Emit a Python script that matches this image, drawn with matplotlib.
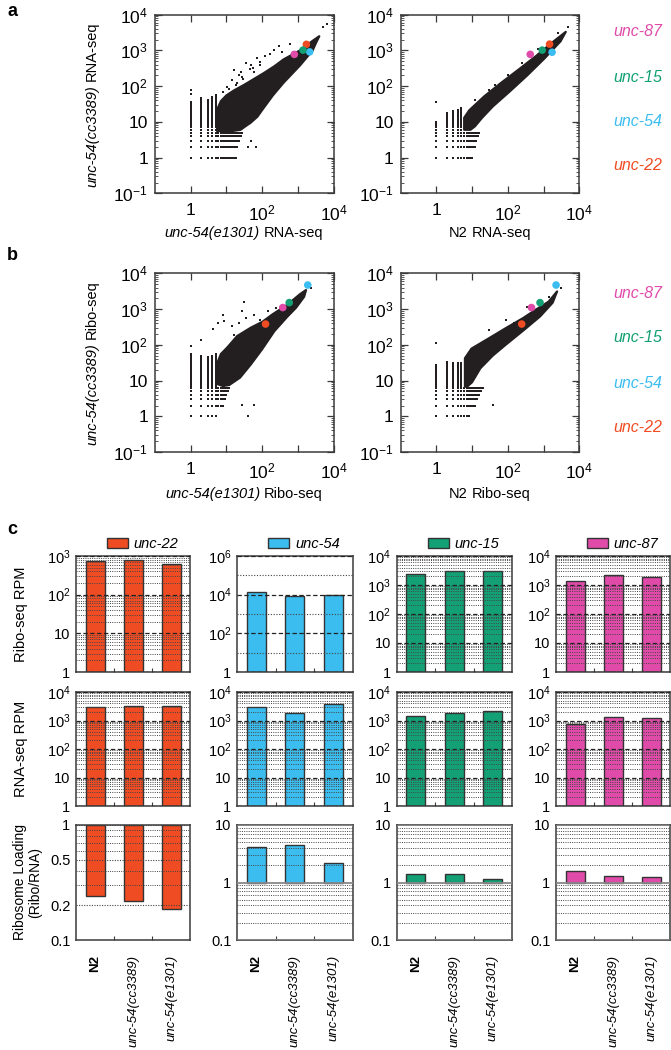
import numpy as np
import matplotlib
matplotlib.use("Agg")
import matplotlib.pyplot as plt
from matplotlib import font_manager
from matplotlib.patches import Patch
from matplotlib.transforms import IdentityTransform
from matplotlib.ticker import FixedLocator, FixedFormatter, NullFormatter, NullLocator

_names = {f.name for f in font_manager.fontManager.ttflist}
SANS = "Liberation Sans" if "Liberation Sans" in _names else "DejaVu Sans"
NARROW = "Liberation Sans Narrow" if "Liberation Sans Narrow" in _names else SANS

plt.rcParams["font.family"] = [SANS, "DejaVu Sans"]
plt.rcParams["mathtext.fontset"] = "custom"
plt.rcParams["mathtext.rm"] = NARROW
plt.rcParams["mathtext.it"] = NARROW + ":italic"
plt.rcParams["mathtext.default"] = "rm"

# ============================ DATA ============================
genes = ["unc-22", "unc-54", "unc-15", "unc-87"]
gene_colors = ["#F04C23", "#3BBDEF", "#13A074", "#E04BAA"]
side_labels = ["unc-87", "unc-15", "unc-54", "unc-22"]
side_colors = ["#E04BAA", "#13A074", "#3BBDEF", "#F04C23"]

# integer read-count levels (low-count lattice of the scatter plots)
count_levels = np.arange(1, 101)

# ---- panel a, left: unc-54(e1301) RNA-seq (x) vs unc-54(cc3389) RNA-seq (y)
a1_gene_x = [1740, 2150, 1400, 800]
a1_gene_y = [1480, 910, 1020, 775]
a1_cloud_x = [5.5, 5.5, 7, 10, 16, 32, 60, 110, 220, 400, 1150, 2500, 4000,
              3300, 2600, 1150, 400, 200, 102, 74, 48, 32, 25, 14, 8]
a1_cloud_y = [5.5, 22, 38, 55, 75, 110, 160, 230, 360, 560, 1000, 1800, 2500,
              1700, 1000, 380, 125, 55, 22, 14, 9.5, 7.2, 6, 5.5, 5.5]
a1_col_x = [1, 2, 3, 4, 5]
a1_col_top = [35, 47, 42, 50, 55]
a1_row_y = [1, 2, 3, 4, 5]
a1_row_right = [18, 20, 22, 25, 28]
a1_out_x = [10.5, 14, 16, 22, 25, 36, 45, 50, 72, 90, 120, 220, 300, 60, 30, 18,
            8, 1, 1, 69, 48, 150, 5200, 6500, 80, 110, 40, 20, 28, 55, 85, 170,
            350, 600, 12]
a1_out_y = [96, 150, 280, 200, 250, 435, 300, 400, 600, 480, 700, 1020, 1300, 250,
            160, 110, 70, 80, 60, 2, 3, 60, 4600, 5500, 35, 40, 2, 120, 180, 330,
            380, 800, 900, 1500, 85]

# ---- panel a, right: N2 RNA-seq (x) vs unc-54(cc3389) RNA-seq (y)
a2_gene_x = [1480, 1740, 920, 425]
a2_gene_y = [1500, 890, 1020, 775]
a2_cloud_x = [6, 6, 8.3, 22, 66, 200, 600, 1800, 4200,
              3000, 1070, 350, 115, 38, 19, 12, 9]
a2_cloud_y = [6, 13, 21, 52, 125, 290, 680, 1700, 3300,
              1800, 600, 200, 72, 27, 13, 7.5, 6]
a2_col_x = [1, 2, 3, 4, 5]
a2_col_top = [10, 18, 20, 22, 25]
a2_row_y = [1, 2, 3, 4, 5]
a2_row_right = [10, 12, 13.5, 15, 16]
a2_out_x = [1, 4800, 2600, 12, 30, 100, 250, 180, 400, 45, 700]
a2_out_y = [35, 4600, 3000, 40, 80, 200, 450, 120, 250, 110, 1100]

# ---- panel b, left: unc-54(e1301) Ribo-seq (x) vs unc-54(cc3389) Ribo-seq (y)
b1_gene_x = [125, 1900, 575, 380]
b1_gene_y = [380, 4700, 1510, 1100]
b1_cloud_x = [5.5, 5.5, 7, 10.7, 20, 48, 102, 200, 500, 1150, 1700,
              1500, 900, 500, 220, 100, 48, 24, 12, 8]
b1_cloud_y = [8, 30, 55, 85, 175, 300, 440, 720, 1300, 2600, 3400,
              2200, 1100, 600, 240, 75, 28, 12, 7.5, 7]
b1_col_x = [1, 2, 3, 4, 5]
b1_col_top = [54, 50, 45, 50, 55]
b1_row_y = [1, 2, 3, 4, 5, 6]
b1_row_right = [5.6, 8.7, 9, 10, 11, 12]
b1_out_x = [1, 1.9, 4.1, 8.7, 14.8, 28, 32, 60, 16.6, 6, 8, 28, 60, 40, 2300, 150, 90,
            22, 35, 250]
b1_out_y = [91, 140, 270, 460, 330, 870, 1620, 690, 190, 400, 690, 2.1, 2.1, 1, 3800, 900,
            500, 400, 560, 1100]

# ---- panel b, right: N2 Ribo-seq (x) vs unc-54(cc3389) Ribo-seq (y)
b2_gene_x = [245, 2250, 800, 460]
b2_gene_y = [380, 4700, 1510, 1100]
b2_cloud_x = [6.3, 6.3, 9.6, 29, 87, 270, 600, 1380, 2400,
              1800, 800, 270, 87, 38, 17, 10, 7]
b2_cloud_y = [7, 42, 78, 150, 290, 560, 950, 1600, 3100,
              1500, 620, 250, 100, 50, 22, 9, 6.5]
b2_col_x = [1, 2, 3, 4, 5]
b2_col_top = [28, 32, 30, 30, 30]
b2_row_y = [1, 2, 3, 4, 5, 6]
b2_row_right = [8, 12, 14, 16, 18, 20]
b2_out_x = [1, 29, 87, 350, 38, 1400, 3000, 20, 60, 150]
b2_out_y = [115, 260, 500, 1170, 2.1, 2200, 3800, 80, 180, 400]

# ---- panel c
conditions = ["N2", "unc-54(cc3389)", "unc-54(e1301)"]
ribo_unc22 = [730, 800, 620]
ribo_unc54 = [13000, 9000, 9800]
ribo_unc15 = [2400, 3000, 3000]
ribo_unc87 = [1350, 2200, 1900]
rna_unc22 = [2900, 3100, 3100]
rna_unc54 = [2900, 1830, 3730]
rna_unc15 = [1480, 1830, 2200]
rna_unc87 = [730, 1370, 1270]
load_unc22 = [0.243, 0.22, 0.185]
load_unc54 = [4.07, 4.47, 2.2]
load_unc15 = [1.4, 1.4, 1.15]
load_unc87 = [1.58, 1.32, 1.27]

# ============================ FIGURE ============================
W, H = 671, 1050
fig = plt.figure(figsize=(W / 100, H / 100), dpi=100)
DOT = "#231F20"
SPINE = "#3a3a3a"


def add_ax(x0, y0, x1, y1):
    return fig.add_axes([x0 / W, 1 - y1 / H, (x1 - x0) / W, (y1 - y0) / H])


def ftext(x, y, s, **kw):
    return fig.text(x, H - y, s, transform=IdentityTransform(), **kw)


def mixed_label(xc, yc, parts, rotation=0, size=10.5):
    r = fig.canvas.get_renderer()
    ts = []
    for s, st in parts:
        if rotation == 0:
            t = ftext(0, 0, s, fontsize=size, fontstyle=st, ha="left", va="center")
        else:
            t = ftext(0, 0, s, fontsize=size, fontstyle=st, rotation=90,
                      ha="center", va="bottom")
        ts.append(t)
    gap = size * 100 / 72 * 0.28
    lens = []
    for t in ts:
        bb = t.get_window_extent(r)
        lens.append(bb.width if rotation == 0 else bb.height)
    total = sum(lens) + gap * (len(ts) - 1)
    if rotation == 0:
        pos = xc - total / 2
        for t, L in zip(ts, lens):
            t.set_position((pos, H - yc))
            pos += L + gap
    else:
        pos = (H - yc) - total / 2
        for t, L in zip(ts, lens):
            t.set_position((xc, pos))
            pos += L + gap


def draw_scatter(ax, cx, cy, colx, coltop, rowy, rowright, ox, oy, gx, gy):
    ax.set_xscale("log")
    ax.set_yscale("log")
    ax.fill(cx, cy, color=DOT, lw=1.6, joinstyle="round", zorder=2)
    for x, top in zip(colx, coltop):
        ys = [v for v in count_levels if v <= top]
        ax.scatter([x] * len(ys), ys, s=1.8, marker="s", color=DOT, lw=0, zorder=2)
    for y, right in zip(rowy, rowright):
        xs = [v for v in count_levels if v <= right]
        ax.scatter(xs, [y] * len(xs), s=1.8, marker="s", color=DOT, lw=0, zorder=2)
    ax.scatter(ox, oy, s=1.6, marker="s", color=DOT, lw=0, zorder=2)
    ax.scatter(gx, gy, s=30, c=gene_colors, lw=0, zorder=4)
    ax.set_xlim(0.1, 1e4)
    ax.set_ylim(0.1, 1e4)
    ax.yaxis.set_major_locator(FixedLocator([0.1, 1, 10, 100, 1e3, 1e4]))
    ax.yaxis.set_major_formatter(FixedFormatter(
        [r"$10^{-1}$", "1", "10", r"$10^{2}$", r"$10^{3}$", r"$10^{4}$"]))
    ax.yaxis.set_minor_formatter(NullFormatter())
    ax.xaxis.set_major_locator(FixedLocator([1, 10, 100, 1e3, 1e4]))
    ax.xaxis.set_major_formatter(FixedFormatter(["1", "", r"$10^{2}$", "", r"$10^{4}$"]))
    ax.xaxis.set_minor_locator(NullLocator())
    ax.tick_params(which="both", direction="in", top=True, right=True,
                   labelsize=12.5, labelfontfamily=NARROW, color=SPINE)
    ax.tick_params(which="major", length=5, width=0.9)
    ax.tick_params(which="minor", length=2.5, width=0.6)
    ax.tick_params(axis="y", pad=5)
    ax.tick_params(axis="x", pad=7)
    for sp in ax.spines.values():
        sp.set_color(SPINE)
        sp.set_linewidth(1.1)


# ---------- panels a and b ----------
axA1 = add_ax(155, 14.7, 333.5, 193.3)
draw_scatter(axA1, a1_cloud_x, a1_cloud_y, a1_col_x, a1_col_top, a1_row_y, a1_row_right,
             a1_out_x, a1_out_y, a1_gene_x, a1_gene_y)
axA2 = add_ax(400.7, 14.7, 579.2, 193.3)
draw_scatter(axA2, a2_cloud_x, a2_cloud_y, a2_col_x, a2_col_top, a2_row_y, a2_row_right,
             a2_out_x, a2_out_y, a2_gene_x, a2_gene_y)
axB1 = add_ax(155, 273.3, 333.5, 452)
draw_scatter(axB1, b1_cloud_x, b1_cloud_y, b1_col_x, b1_col_top, b1_row_y, b1_row_right,
             b1_out_x, b1_out_y, b1_gene_x, b1_gene_y)
axB2 = add_ax(400.7, 273.3, 579.2, 452)
draw_scatter(axB2, b2_cloud_x, b2_cloud_y, b2_col_x, b2_col_top, b2_row_y, b2_row_right,
             b2_out_x, b2_out_y, b2_gene_x, b2_gene_y)

for lab, ys in (("a", 11), ("b", 256), ("c", 529)):
    ftext(7, ys, lab, fontsize=13, fontweight="bold", ha="left", va="center")

for ys in ([32, 78, 122, 166], [293, 338, 383, 427]):
    for name, col, y in zip(side_labels, side_colors, ys):
        ftext(638, y, name, fontsize=11.5, fontstyle="italic", color=col,
              ha="center", va="center")

fig.canvas.draw()
mixed_label(92, 104, [("unc-54(cc3389)", "italic"), ("RNA-seq", "normal")], rotation=90)
mixed_label(92, 362.7, [("unc-54(cc3389)", "italic"), ("Ribo-seq", "normal")], rotation=90)
mixed_label(244, 233, [("unc-54(e1301)", "italic"), ("RNA-seq", "normal")])
mixed_label(490, 233, [("N2", "normal"), ("RNA-seq", "normal")])
mixed_label(244, 494, [("unc-54(e1301)", "italic"), ("Ribo-seq", "normal")])
mixed_label(490, 494, [("N2", "normal"), ("Ribo-seq", "normal")])

# ---------- panel c ----------
col_x = [(76, 190), (237, 352.7), (396.5, 512), (556, 670)]
row_y = [(556, 672), (692, 806), (825, 940)]
ribo = [ribo_unc22, ribo_unc54, ribo_unc15, ribo_unc87]
rna = [rna_unc22, rna_unc54, rna_unc15, rna_unc87]
load = [load_unc22, load_unc54, load_unc15, load_unc87]
xpos = np.arange(len(conditions))

dec_labels = {0.1: "0.1", 0.2: "0.2", 0.5: "0.5", 1: "1", 10: "10", 100: r"$10^{2}$",
              1e3: r"$10^{3}$", 1e4: r"$10^{4}$", 1e6: r"$10^{6}$"}


def style_c(ax, ylim, major, minor, major_ls, show_x):
    ax.set_yscale("log")
    ax.set_ylim(*ylim)
    ax.set_xlim(-0.5, 2.5)
    ax.yaxis.set_major_locator(FixedLocator(major))
    ax.yaxis.set_major_formatter(FixedFormatter([dec_labels[m] for m in major]))
    ax.yaxis.set_minor_locator(FixedLocator(minor))
    ax.yaxis.set_minor_formatter(NullFormatter())
    ax.set_axisbelow(False)
    if major_ls == "solid":
        ax.yaxis.grid(True, which="major", color="#888888", lw=1.3, ls="-")
    elif major_ls == "dashed":
        ax.yaxis.grid(True, which="major", color="#222222", lw=0.9, ls=(0, (3.5, 2)))
    else:
        ax.yaxis.grid(True, which="major", color="#444444", lw=0.8, ls=(0, (1, 1.3)))
    ax.yaxis.grid(True, which="minor", color="#444444", lw=0.7, ls=(0, (1, 1.3)))
    ax.tick_params(axis="y", which="both", length=0, labelsize=10.5,
                   labelfontfamily=NARROW, pad=4)
    ax.xaxis.set_minor_locator(FixedLocator([0.5, 1.5]))
    ax.tick_params(axis="x", which="minor", direction="in", length=3, width=0.8,
                   color=SPINE)
    ax.set_xticks(xpos)
    ax.tick_params(axis="x", which="major", length=0)
    if show_x:
        ax.set_xticklabels(conditions, rotation=90, fontsize=9.5, va="top", ha="center")
        ax.tick_params(axis="x", which="major", pad=11)
        for t in ax.get_xticklabels():
            if t.get_text() == "N2":
                t.set_fontweight("bold")
            else:
                t.set_fontstyle("italic")
    else:
        ax.set_xticklabels([])
    for sp in ax.spines.values():
        sp.set_color(SPINE)
        sp.set_linewidth(1.1)


def decade_minor(lo_exp, hi_exp):
    out = []
    for e in range(lo_exp, hi_exp):
        for m in range(2, 10):
            out.append(m * 10.0 ** e)
    return out


for j in range(4):
    x0, x1 = col_x[j]
    color = gene_colors[j]
    # row 1: Ribo-seq RPM
    ax = add_ax(x0, row_y[0][0], x1, row_y[0][1])
    ax.bar(xpos, np.subtract(ribo[j], 1), bottom=1, width=0.5, color=color,
           edgecolor="#333333", lw=1.0, zorder=1)
    if j == 0:
        style_c(ax, (1, 1e3), [1, 10, 100, 1e3], decade_minor(0, 3), "dashed", False)
    elif j == 1:
        style_c(ax, (1, 1e6), [1, 100, 1e4, 1e6], [10, 1e3, 1e5], "dashed", False)
    else:
        style_c(ax, (1, 1e4), [1, 10, 100, 1e3, 1e4], decade_minor(0, 4), "dashed", False)
    if j == 1:
        ax.yaxis.grid(True, which="minor", color="#444444", lw=0.8, ls=(0, (1, 1.5)))
    ax.legend(handles=[Patch(facecolor=color, edgecolor="#333333", lw=1.0,
                             label=genes[j])],
              loc="lower left", bbox_to_anchor=(0.27, 1.04), frameon=False,
              prop={"style": "italic", "size": 10.5}, handlelength=1.45,
              handleheight=0.7, handletextpad=0.4, borderpad=0, borderaxespad=0)
    if j == 0:
        ax.set_ylabel("Ribo-seq RPM", fontsize=10.5)
        ax.yaxis.set_label_coords(-(x0 - 28) / (x1 - x0), 0.5)

    # row 2: RNA-seq RPM
    ax = add_ax(x0, row_y[1][0], x1, row_y[1][1])
    ax.bar(xpos, np.subtract(rna[j], 1), bottom=1, width=0.5, color=color,
           edgecolor="#333333", lw=1.0, zorder=1)
    style_c(ax, (1, 1e4), [1, 10, 100, 1e3, 1e4], decade_minor(0, 4), "dashed", False)
    if j == 0:
        ax.set_ylabel("RNA-seq RPM", fontsize=10.5)
        ax.yaxis.set_label_coords(-(x0 - 28) / (x1 - x0), 0.5)

    # row 3: ribosome loading
    ax = add_ax(x0, row_y[2][0], x1, row_y[2][1])
    ax.bar(xpos, np.subtract(load[j], 1), bottom=1, width=0.5, color=color,
           edgecolor="#333333", lw=1.0, zorder=1)
    if j == 0:
        style_c(ax, (0.1, 1), [0.1, 0.2, 0.5, 1], [0.3, 0.4, 0.6, 0.7, 0.8, 0.9],
                "dotted", True)
        ax.set_ylabel("Ribosome Loading\n(Ribo/RNA)", fontsize=10, linespacing=1.1)
        ax.yaxis.set_label_coords(-(x0 - 42) / (x1 - x0), 0.5)
    else:
        style_c(ax, (0.1, 10), [0.1, 1, 10], decade_minor(-1, 1), "solid", True)

fig.savefig("out.png", dpi=100)
